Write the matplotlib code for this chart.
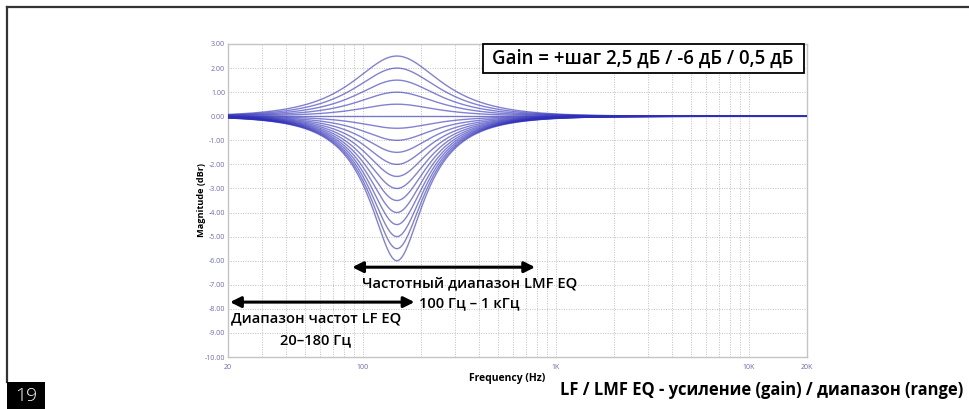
import numpy as np
import matplotlib
matplotlib.use("Agg")
import matplotlib.pyplot as plt
from matplotlib.patches import Rectangle
from matplotlib.lines import Line2D

# ---- data ----
gains_db = [2.5, 2.0, 1.5, 1.0, 0.5, 0.0, -0.5, -1.0, -1.5, -2.0, -2.5,
            -3.0, -3.5, -4.0, -4.5, -5.0, -5.5, -6.0]
center_hz = 150.0
bandwidth_q = 0.9
y_ticks = [3, 2, 1, 0, -1, -2, -3, -4, -5, -6, -7, -8, -9, -10]
x_ticks = [20, 100, 1000, 10000, 20000]
x_tick_labels = ["20", "100", "1K", "10K", "20K"]
lf_range_hz = [20.5, 185]
lmf_range_hz = [88, 780]
lf_arrow_db = -7.72
lmf_arrow_db = -6.27

plt.rcParams['font.family'] = ['Open Sans', 'Noto Sans', 'DejaVu Sans']

W, H = 970, 409
fig = plt.figure(figsize=(W / 100, H / 100), dpi=100)
fig.patch.set_facecolor('white')

def fx(px):
    return px / W

def fy(py):
    return 1 - py / H

L, R, T, B = 228, 807, 44, 357
ax = fig.add_axes([fx(L), fy(B), fx(R) - fx(L), fy(T) - fy(B)])
ax.set_xscale('log')
ax.set_xlim(20, 20000)
ax.set_ylim(-10, 3)

freqs = np.geomspace(20, 20000, 800)
w = freqs / center_hz
for g in gains_db:
    A = 10 ** (g / 20)
    num = (1 - w ** 2) + 1j * w * A / bandwidth_q
    den = (1 - w ** 2) + 1j * w / bandwidth_q
    resp = 20 * np.log10(np.abs(num / den))
    ax.plot(freqs, resp, color=(0.18, 0.18, 0.72), alpha=0.6, lw=1.0, zorder=3)

ax.set_yticks(y_ticks)
ax.set_yticklabels([f"{v:.2f}" for v in y_ticks])
ax.set_xticks(x_ticks)
ax.set_xticklabels(x_tick_labels)
ax.xaxis.set_minor_locator(matplotlib.ticker.LogLocator(base=10, subs=np.arange(2, 10)))
ax.xaxis.set_minor_formatter(matplotlib.ticker.NullFormatter())
ax.tick_params(axis='both', which='both', length=0, labelsize=5,
               labelcolor='#6a6ab0')
ax.tick_params(axis='y', pad=2)
ax.tick_params(axis='x', pad=5)
ax.grid(True, which='both', axis='x', color='#c0c0c0', lw=0.7, ls=(0, (1, 1.5)))
ax.grid(True, which='major', axis='y', color='#c0c0c0', lw=0.7, ls=(0, (1, 1.5)))
for s in ax.spines.values():
    s.set_color('#c4c4c4')
    s.set_linewidth(1.0)

# arrows
for (x0, x1), yv in ((lmf_range_hz, lmf_arrow_db), (lf_range_hz, lf_arrow_db)):
    ax.annotate('', xy=(x0, yv), xytext=(x1, yv),
                arrowprops=dict(arrowstyle='<|-|>', color='black', lw=2.2,
                                mutation_scale=16, shrinkA=0, shrinkB=0),
                zorder=5)

# axis titles
fig.text(fx(202), fy(200), 'Magnitude (dBr)', rotation=90, ha='center', va='center',
         fontsize=6.6, fontweight='bold', color='black')
fig.text(fx(507), fy(378), 'Frequency (Hz)', ha='center', va='center',
         fontsize=7.5, fontweight='bold', color='black')

# annotation texts
fs_ann = 10.6
fig.text(fx(470), fy(283), 'Частотный диапазон LMF EQ', ha='center', va='center',
         fontsize=fs_ann, fontweight='semibold')
fig.text(fx(469), fy(303), '100 Гц – 1 кГц', ha='center', va='center',
         fontsize=fs_ann, fontweight='semibold')
fig.text(fx(316), fy(318), 'Диапазон частот LF EQ', ha='center', va='center',
         fontsize=fs_ann, fontweight='semibold')
fig.text(fx(316), fy(340), '20–180 Гц', ha='center', va='center',
         fontsize=fs_ann, fontweight='semibold')

# gain box
fig.patches.append(Rectangle((fx(483), fy(73)), fx(804) - fx(483), fy(44) - fy(73),
                             transform=fig.transFigure, facecolor='white',
                             edgecolor='black', lw=1.3, zorder=10))
fig.text(fx(643), fy(58.5), 'Gain = +шаг 2,5 дБ / -6 дБ / 0,5 дБ', ha='center',
         va='center', fontsize=13.4, fontweight='semibold', zorder=11)

# page frame
fig.add_artist(Line2D([fx(7), fx(970)], [fy(7), fy(7)], color='#333333', lw=1.6,
                      transform=fig.transFigure))
fig.add_artist(Line2D([fx(7.5), fx(7.5)], [fy(7), fy(382)], color='#333333', lw=1.6,
                      transform=fig.transFigure))
fig.patches.append(Rectangle((fx(7), 0), fx(45) - fx(7), fy(382),
                             transform=fig.transFigure, facecolor='black',
                             edgecolor='none', zorder=10))
fig.text(fx(26), fy(396), '19', ha='center', va='center', fontsize=14,
         color='white', fontweight='light', zorder=11)

# bottom title
fig.text(fx(963), fy(390), 'LF / LMF EQ - усиление (gain) / диапазон (range)',
         ha='right', va='center', fontsize=11.9, fontweight='bold')

fig.savefig('out.png', dpi=100, facecolor='white')
